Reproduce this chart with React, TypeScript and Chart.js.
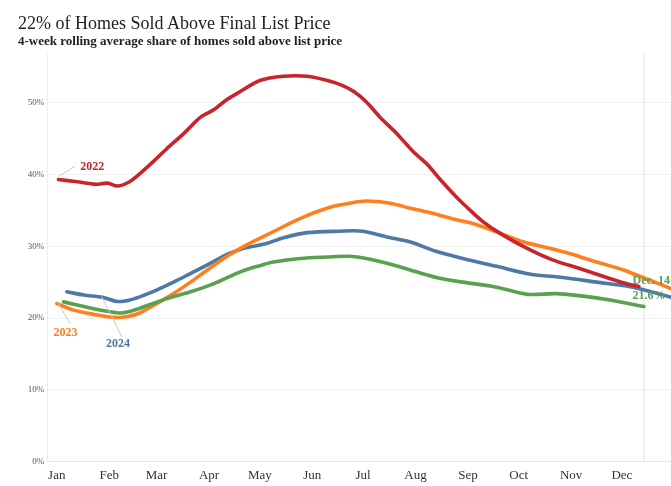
import React, { useEffect, useRef } from "react";
import { Chart, registerables } from "chart.js";

Chart.register(...registerables);

// ---------- data ----------
const monthLabels = ["Jan", "Feb", "Mar", "Apr", "May", "Jun", "Jul", "Aug", "Sep", "Oct", "Nov", "Dec"];
const monthStartDays = [0, 31, 59, 90, 120, 151, 181, 212, 243, 273, 304, 334];
const yTickValues = [0, 10, 20, 30, 40, 50];

// day of year (0 = Jan 1) and share of homes sold above list price (%)
const days2022 = [1, 12, 23, 30, 36, 43, 49, 57, 65, 75, 85, 93, 100, 108, 120, 134, 148, 160, 169, 176, 183, 191, 201, 211, 219, 227, 236, 243, 252, 262, 278, 293, 309, 325, 338, 344];
const share2022 = [39.3, 39.0, 38.65, 38.8, 38.4, 39.0, 40.1, 41.8, 43.6, 45.7, 48.0, 49.05, 50.35, 51.5, 53.1, 53.7, 53.7, 53.1, 52.4, 51.5, 50.1, 48.0, 45.7, 43.1, 41.4, 39.2, 36.9, 35.3, 33.4, 31.8, 29.7, 28.1, 26.9, 25.65, 24.7, 24.4];

const days2023 = [0, 10, 22, 33, 42, 49, 59, 69, 79, 89, 100, 112, 126, 144, 161, 173, 183, 197, 209, 222, 236, 244, 260, 276, 290, 303, 319, 335, 349, 363];
const share2023 = [22.0, 21.1, 20.5, 20.1, 20.2, 20.7, 22.0, 23.4, 25.0, 26.7, 28.5, 30.15, 31.8, 33.9, 35.4, 36.0, 36.3, 36.0, 35.3, 34.6, 33.7, 33.3, 32.0, 30.6, 29.8, 29.0, 27.8, 26.7, 25.4, 24.1];

const days2024 = [6, 16, 27, 36, 43, 49, 59, 69, 79, 89, 100, 110, 114, 124, 134, 148, 167, 181, 195, 209, 224, 240, 260, 280, 299, 319, 339, 363];
const share2024 = [23.65, 23.2, 22.9, 22.3, 22.5, 22.95, 23.9, 25.0, 26.2, 27.4, 28.8, 29.7, 29.9, 30.4, 31.2, 31.9, 32.1, 32.1, 31.3, 30.6, 29.3, 28.3, 27.2, 26.1, 25.65, 25.0, 24.35, 22.9];

const days2025 = [4, 16, 28, 37, 43, 53, 65, 79, 93, 106, 114, 120, 128, 144, 160, 173, 183, 199, 213, 227, 240, 260, 278, 295, 311, 327, 347];
const share2025 = [22.25, 21.6, 21.0, 20.7, 20.9, 21.7, 22.7, 23.65, 24.8, 26.2, 26.9, 27.3, 27.8, 28.3, 28.5, 28.6, 28.3, 27.4, 26.4, 25.5, 25.0, 24.3, 23.3, 23.4, 23.05, 22.5, 21.6];

const latestDay = 347; // Dec. 14
const latestLabel = ["Dec. 14", "21.6%"];

// ---------- styles ----------
const RED = "#c9242c";
const ORANGE = "#ff7f1e";
const BLUE = "#4e79a7";
const GREEN = "#59a14f";
const SERIF = "'Liberation Serif', 'Times New Roman', serif";

// label annotations (data-space anchors)
const yearNotes = [
  { text: "2022", color: RED, day: 13.8, share: 41.06, from: [0.95, 39.7], to: [10.8, 41.15] },
  { text: "2023", color: ORANGE, day: -2.0, share: 17.94, from: [0.95, 22.02], to: [7.9, 19.2] },
  { text: "2024", color: BLUE, day: 29.1, share: 16.36, from: [26.6, 22.96], to: [38.4, 17.4] },
];

const toPoints = (d: number[], v: number[]) => d.map((x, i) => ({ x, y: v[i] }));

export default function App() {
  const canvasRef = useRef<HTMLCanvasElement>(null);

  useEffect(() => {
    const canvas = canvasRef.current!;

    const markerPlugin = {
      id: "marker",
      beforeDatasetsDraw(chart: any) {
        const { ctx, chartArea, scales } = chart;
        const x = scales.x.getPixelForValue(latestDay);
        ctx.save();
        ctx.strokeStyle = "#e6e6e6";
        ctx.lineWidth = 1.2;
        ctx.beginPath();
        ctx.moveTo(x, chartArea.top);
        ctx.lineTo(x, chartArea.bottom);
        ctx.stroke();
        ctx.restore();
      },
    };

    const notesPlugin = {
      id: "notes",
      afterDatasetsDraw(chart: any) {
        const { ctx, scales } = chart;
        const px = (d: number) => scales.x.getPixelForValue(d);
        const py = (s: number) => scales.y.getPixelForValue(s);
        ctx.save();
        ctx.font = `bold 12px ${SERIF}`;
        ctx.textBaseline = "middle";
        ctx.textAlign = "left";
        for (const n of yearNotes) {
          ctx.strokeStyle = "#c8c8c8";
          ctx.lineWidth = 1;
          ctx.beginPath();
          ctx.moveTo(px(n.from[0]), py(n.from[1]));
          ctx.lineTo(px(n.to[0]), py(n.to[1]));
          ctx.stroke();
          ctx.fillStyle = n.color;
          ctx.fillText(n.text, px(n.day), py(n.share));
        }
        ctx.fillStyle = GREEN;
        ctx.fillText(latestLabel[0], px(340.3), py(25.14));
        ctx.fillText(latestLabel[1], px(340.3), py(23.05));
        ctx.restore();
      },
    };

    const line = (label: string, d: number[], v: number[], color: string) => ({
      label,
      data: toPoints(d, v),
      borderColor: color,
      backgroundColor: color,
      borderWidth: 3.6,
      pointRadius: 0,
      tension: 0.3,
      fill: false,
      borderCapStyle: "round" as const,
      borderJoinStyle: "round" as const,
    });

    const chart = new Chart(canvas, {
      type: "line",
      data: {
        datasets: [
          line("2022", days2022, share2022, RED),
          line("2025", days2025, share2025, GREEN),
          line("2023", days2023, share2023, ORANGE),
          line("2024", days2024, share2024, BLUE),
        ],
      },
      options: {
        responsive: false,
        animation: false,
        layout: { padding: { top: 54, left: 0, right: 0, bottom: 0 } },
        plugins: {
          legend: { display: false },
          tooltip: { enabled: false },
          title: { display: false },
        },
        scales: {
          x: {
            type: "linear",
            min: -5.6,
            max: 363,
            afterBuildTicks: (s: any) => {
              s.ticks = monthStartDays.map((v) => ({ value: v }));
            },
            afterFit: (s: any) => {
              s.height = 24.5;
            },
            ticks: {
              autoSkip: false,
              maxRotation: 0,
              padding: 6,
              color: "#333333",
              font: { family: SERIF, size: 13 },
              callback: (_v: any, i: number) => monthLabels[i],
            },
            grid: { display: false, drawTicks: false },
            border: { display: true, color: "#e8e8e8", width: 1 },
          },
          y: {
            type: "linear",
            min: 0,
            max: 56.8,
            afterBuildTicks: (s: any) => {
              s.ticks = yTickValues.map((v) => ({ value: v }));
            },
            afterFit: (s: any) => {
              s.width = 47.3;
            },
            ticks: {
              padding: 3,
              color: "#555555",
              font: { family: SERIF, size: 9 },
              callback: (v: any) => `${v}%`,
            },
            grid: { color: "#f1f1f1", lineWidth: 1, drawTicks: false },
            border: { display: true, color: "#ececec", width: 1 },
          },
        },
      },
      plugins: [markerPlugin, notesPlugin],
    });

    return () => chart.destroy();
  }, []);

  return (
    <div style={{ position: "absolute", left: 0, top: 0, width: 671, height: 486, background: "#ffffff", overflow: "hidden" }}>
      <canvas ref={canvasRef} width={671} height={486} style={{ position: "absolute", left: 0, top: 0, width: 671, height: 486 }} />
      <div
        style={{
          position: "absolute",
          left: 18,
          top: 14,
          fontFamily: SERIF,
          fontSize: 18,
          lineHeight: "18px",
          color: "#222222",
          whiteSpace: "nowrap",
        }}
      >
        22% of Homes Sold Above Final List Price
      </div>
      <div
        style={{
          position: "absolute",
          left: 18,
          top: 34,
          fontFamily: SERIF,
          fontSize: 13,
          fontWeight: "bold",
          lineHeight: "13px",
          color: "#222222",
          whiteSpace: "nowrap",
        }}
      >
        4-week rolling average share of homes sold above list price
      </div>
    </div>
  );
}
